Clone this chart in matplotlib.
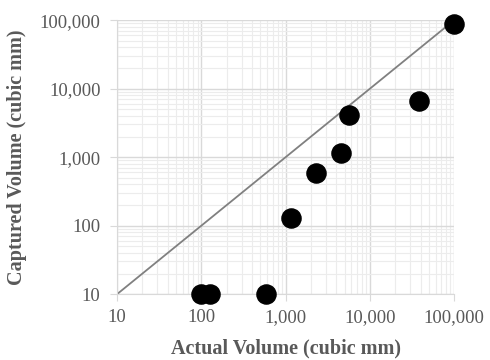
import matplotlib.pyplot as plt
from matplotlib.ticker import FuncFormatter, LogLocator, NullFormatter

plt.rcParams['font.family'] = ['Liberation Serif', 'DejaVu Serif']

actual = [99, 127, 590, 1160, 2300, 4570, 5660, 38000, 100000]
captured = [10, 10, 10, 129, 590, 1150, 4100, 6700, 87000]
line_x = [10, 100000]
line_y = [10, 100000]

fig = plt.figure(figsize=(4.9, 3.6), dpi=100)
ax = fig.add_axes([0.239, 0.183, 0.688, 0.761])

ax.set_xscale('log')
ax.set_yscale('log')
ax.set_xlim(10, 100000)
ax.set_ylim(10, 100000)

ax.plot(line_x, line_y, color='#808080', lw=1.3, zorder=2)
ax.scatter(actual, captured, s=190, color='black', zorder=3, clip_on=False)

for a in (ax.xaxis, ax.yaxis):
    a.set_major_locator(LogLocator(base=10))
    a.set_minor_locator(LogLocator(base=10, subs=range(2, 10)))
    a.set_minor_formatter(NullFormatter())
    a.set_major_formatter(FuncFormatter(lambda v, p: f'{v:,.0f}'))

ax.grid(which='major', color='#d9d9d9', lw=1.0)
ax.grid(which='minor', color='#ececec', lw=0.8)
ax.set_axisbelow(True)

for s in ('top', 'right'):
    ax.spines[s].set_visible(False)
for s in ('left', 'bottom'):
    ax.spines[s].set_color('#d9d9d9')

ax.tick_params(which='major', length=5, color='#d9d9d9', labelsize=13.5,
               labelcolor='#595959')
ax.tick_params(axis='y', pad=7)
ax.tick_params(axis='x', pad=6)
ax.tick_params(which='minor', length=0)

ax.set_xlabel('Actual Volume (cubic mm)', fontsize=14.5, fontweight='bold',
              color='#595959', labelpad=9)
ax.set_ylabel('Captured Volume (cubic mm)', fontsize=14.5, fontweight='bold',
              color='#595959', labelpad=9)

fig.savefig('out.png', dpi=100)
